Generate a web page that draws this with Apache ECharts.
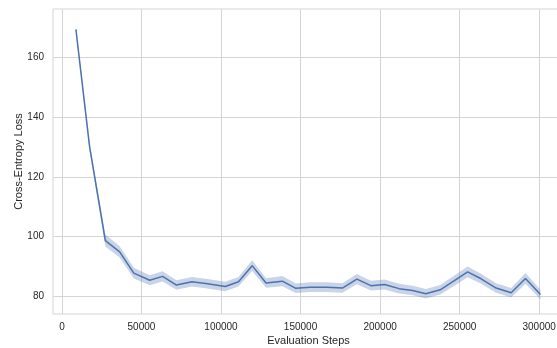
<!DOCTYPE html>
<html>
<head>
<meta charset="utf-8">
<script src="https://cdn.jsdelivr.net/npm/echarts@6/dist/echarts.min.js"></script>
<style>
  html, body { margin: 0; padding: 0; background: #ffffff; }
  #chart { width: 557px; height: 348px; }
</style>
</head>
<body>
<div id="chart"></div>
<script>
// Evaluation step at which each loss was measured
const steps = [8800, 17400, 27300, 36300, 45200, 55200, 63300, 72000, 81700, 90500,
  102700, 111000, 119600, 128300, 138600, 147000, 156000, 166500, 176300, 185400,
  194200, 202800, 212000, 220400, 228800, 237800, 246700, 255000, 263500, 272900,
  282400, 291400, 300800];
// Mean cross-entropy loss at each step
const loss = [169.5, 130.2, 98.7, 94.9, 87.8, 85.4, 86.7, 83.8, 84.9, 84.3,
  83.3, 84.9, 90.3, 84.5, 85.1, 82.7, 83.1, 83.1, 82.8, 85.8,
  83.6, 84.0, 82.6, 82.0, 80.9, 82.2, 85.3, 88.2, 85.9, 82.8,
  81.2, 86.0, 80.6];
// Half-width of the confidence band around the mean
const ciHalf = [0.8, 1.2, 2.0, 1.9, 1.8, 1.7, 1.7, 1.6, 1.6, 1.6,
  1.6, 1.6, 1.8, 1.6, 1.7, 1.6, 1.6, 1.6, 1.6, 1.7,
  1.6, 1.7, 1.6, 1.6, 1.6, 1.6, 1.7, 1.8, 1.7, 1.6,
  1.6, 1.8, 1.6];
// Tick labels
const xTicks = [0, 50000, 100000, 150000, 200000, 250000, 300000];
const yTicks = [80, 100, 120, 140, 160];

const lineColor = '#4c72b0';
const bandColor = 'rgba(76,114,176,0.3)';
const textColor = '#262626';
const gridColor = '#d5d5d5';
const fontFamily = '"Liberation Sans", Arial, sans-serif';

const meanData = steps.map((s, i) => [s, loss[i]]);
// one row per step: [step, lower bound, upper bound]
const bandData = steps.map((s, i) => [s, loss[i] - ciHalf[i], loss[i] + ciHalf[i]]);

// Confidence band: a single polygon through the upper bounds and back along the lower bounds
function renderBand(params, api) {
  if (params.dataIndex !== 0) return null;
  const upper = bandData.map(r => api.coord([r[0], r[2]]));
  const lower = bandData.map(r => api.coord([r[0], r[1]])).reverse();
  return {
    type: 'polygon',
    shape: { points: upper.concat(lower) },
    style: { fill: bandColor, stroke: 'none' },
    silent: true
  };
}

const chart = echarts.init(document.getElementById('chart'), null, { renderer: 'canvas' });
chart.setOption({
  animation: false,
  backgroundColor: '#ffffff',
  grid: {
    left: 53, top: 9, right: -7, bottom: 34,
    outerBoundsMode: 'none', containLabel: false,
    show: true, borderColor: gridColor, borderWidth: 1, backgroundColor: 'transparent'
  },
  xAxis: {
    type: 'value',
    min: -5600, max: 315600,
    name: 'Evaluation Steps',
    nameLocation: 'middle',
    nameGap: 21,
    nameMoveOverlap: false,
    nameTextStyle: { color: textColor, fontSize: 11, fontFamily },
    axisLine: { show: false },
    axisTick: { show: false, customValues: xTicks },
    axisLabel: {
      color: textColor, fontSize: 10, fontFamily, margin: 8, customValues: xTicks,
      formatter: v => String(v)
    },
    splitLine: { show: true, lineStyle: { color: gridColor, width: 1 } }
  },
  yAxis: {
    type: 'value',
    min: 74.1, max: 176.3,
    name: 'Cross-Entropy Loss',
    nameLocation: 'middle',
    nameGap: 29,
    nameMoveOverlap: false,
    nameTextStyle: { color: textColor, fontSize: 11, fontFamily },
    axisLine: { show: false },
    axisTick: { show: false, customValues: yTicks },
    axisLabel: {
      color: textColor, fontSize: 10, fontFamily, margin: 9, customValues: yTicks,
      formatter: v => String(v)
    },
    splitLine: { show: true, lineStyle: { color: gridColor, width: 1 } }
  },
  series: [
    {
      name: 'band', type: 'custom', renderItem: renderBand,
      data: bandData, encode: { x: 0, y: [1, 2] }, silent: true, z: 1
    },
    {
      name: 'mean', type: 'line', data: meanData,
      symbol: 'none', lineStyle: { color: lineColor, width: 1.5 }, silent: true, z: 2
    }
  ]
});
</script>
</body>
</html>
